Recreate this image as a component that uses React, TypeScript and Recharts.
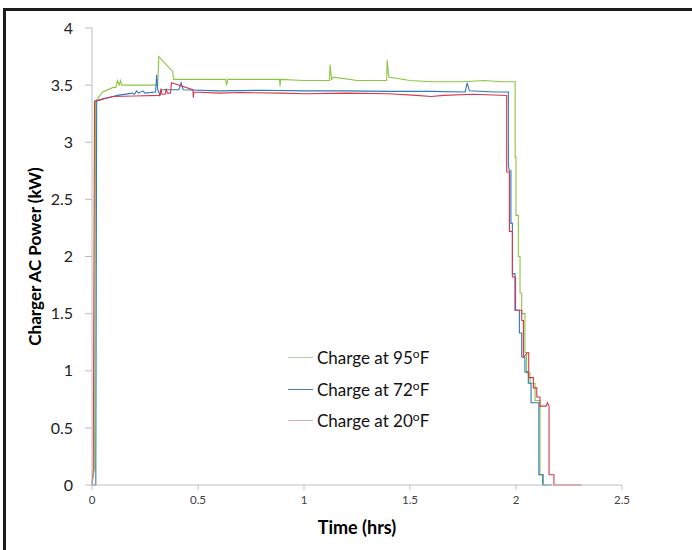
import React from "react"
import { LineChart, Line, XAxis, YAxis, Legend } from "recharts"

// time (hrs) / charger AC power (kW)
const time95 = [0, 0.012, 0.017, 0.05, 0.1, 0.113, 0.12, 0.128, 0.135, 0.14, 0.3, 0.31, 0.315, 0.38, 0.385, 0.5, 0.63, 0.635, 0.64, 0.8, 0.885, 0.887, 0.89, 1.0, 1.12, 1.123, 1.13, 1.14, 1.25, 1.39, 1.392, 1.4, 1.5, 1.6, 1.75, 1.85, 1.93, 1.996, 1.996, 2.0, 2.0, 2.011, 2.011, 2.019, 2.019, 2.027, 2.027, 2.042, 2.042, 2.05, 2.05, 2.066, 2.066, 2.09, 2.09, 2.113, 2.113, 2.129, 2.129, 2.14]
const power95 = [0, 0.15, 3.36, 3.44, 3.48, 3.48, 3.54, 3.5, 3.54, 3.5, 3.5, 3.5, 3.75, 3.62, 3.55, 3.55, 3.55, 3.5, 3.55, 3.55, 3.55, 3.49, 3.55, 3.54, 3.54, 3.68, 3.55, 3.57, 3.54, 3.54, 3.72, 3.57, 3.54, 3.53, 3.53, 3.54, 3.53, 3.53, 2.87, 2.87, 2.36, 2.36, 2.0, 2.0, 1.68, 1.68, 1.5, 1.5, 1.16, 1.16, 0.98, 0.98, 0.89, 0.89, 0.74, 0.74, 0.09, 0.09, 0, 0]

const time72 = [0, 0.018, 0.018, 0.022, 0.06, 0.12, 0.19, 0.2, 0.21, 0.22, 0.24, 0.25, 0.3, 0.305, 0.31, 0.315, 0.32, 0.33, 0.41, 0.42, 0.43, 0.6, 0.8, 1.0, 1.2, 1.4, 1.6, 1.76, 1.77, 1.78, 1.9, 1.964, 1.964, 1.968, 1.976, 1.976, 1.983, 1.983, 1.995, 1.995, 2.016, 2.016, 2.027, 2.027, 2.042, 2.042, 2.058, 2.058, 2.071, 2.071, 2.108, 2.108, 2.126, 2.126, 2.17]
const power72 = [0, 0, 0.16, 3.36, 3.38, 3.41, 3.43, 3.42, 3.45, 3.43, 3.45, 3.43, 3.44, 3.59, 3.46, 3.44, 3.41, 3.46, 3.46, 3.52, 3.46, 3.45, 3.455, 3.45, 3.45, 3.445, 3.445, 3.44, 3.52, 3.45, 3.44, 3.44, 2.8, 2.75, 2.75, 2.29, 2.29, 1.85, 1.85, 1.53, 1.53, 1.33, 1.33, 1.12, 1.12, 0.99, 0.99, 0.89, 0.89, 0.72, 0.72, 0.09, 0.09, 0, 0]

const time20 = [0, 0.006, 0.012, 0.05, 0.1, 0.2, 0.32, 0.325, 0.33, 0.345, 0.35, 0.355, 0.37, 0.375, 0.476, 0.478, 0.48, 0.6, 0.7, 0.9, 1.0, 1.2, 1.4, 1.53, 1.6, 1.66, 1.8, 1.956, 1.956, 1.969, 1.969, 1.983, 1.983, 1.998, 1.998, 2.027, 2.027, 2.035, 2.035, 2.055, 2.06, 2.06, 2.082, 2.082, 2.098, 2.098, 2.113, 2.113, 2.142, 2.148, 2.156, 2.156, 2.179, 2.179, 2.31]
const power20 = [0, 0.15, 3.36, 3.38, 3.4, 3.405, 3.41, 3.47, 3.42, 3.42, 3.47, 3.43, 3.43, 3.52, 3.46, 3.39, 3.44, 3.43, 3.435, 3.43, 3.425, 3.43, 3.425, 3.41, 3.4, 3.41, 3.42, 3.41, 2.74, 2.74, 2.22, 2.22, 1.82, 1.82, 1.53, 1.53, 1.44, 1.44, 1.12, 1.16, 1.16, 0.94, 0.94, 0.85, 0.85, 0.77, 0.77, 0.69, 0.69, 0.72, 0.69, 0.09, 0.09, 0, 0]

const temps = ["95", "72", "20"]
const lineColors = ["#8cc63e", "#2f78bd", "#d8384a"]
const legendColors = ["#b5cfa0", "#55799c", "#dcaab2"]
const xTicks = [0, 0.5, 1, 1.5, 2, 2.5]
const yTicks = [0, 0.5, 1, 1.5, 2, 2.5, 3, 3.5, 4]

const toRows = (t: number[], p: number[]) => t.map((time, i) => ({ time, power: p[i] }))
const series = [toRows(time95, power95), toRows(time72, power72), toRows(time20, power20)]

const font = "Lato, 'Open Sans', sans-serif"

function YTitle(props: any) {
  const vb = props.viewBox || { x: 0, y: 28, width: 92, height: 457 }
  const cx = vb.x + 34
  const cy = vb.y + vb.height / 2
  return (
    <text
      x={cx}
      y={cy}
      transform={`rotate(-90 ${cx} ${cy})`}
      textAnchor="middle"
      dominantBaseline="central"
      fontFamily={font}
      fontWeight="bold"
      fontSize={17}
      fill="#000"
    >
      Charger AC Power (kW)
    </text>
  )
}

function ChartLegend() {
  return (
    <div style={{ fontFamily: font, fontSize: 17, color: "#111" }}>
      {temps.map((t, i) => (
        <div key={t} style={{ display: "flex", alignItems: "center", height: 31.5 }}>
          <span style={{ display: "inline-block", width: 25, height: 1, background: legendColors[i], marginRight: 4 }} />
          <span>
            Charge at {t}
            <span style={{ fontSize: 12, position: "relative", top: -6 }}>o</span>F
          </span>
        </div>
      ))}
    </div>
  )
}

export default function App() {
  return (
    <div style={{ position: "absolute", left: 0, top: 0, width: 692, height: 550, overflow: "hidden", background: "#fff" }}>
      <div
        style={{
          position: "absolute",
          left: 3,
          top: 8,
          width: 800,
          height: 800,
          borderTop: "3px solid #1c1c1c",
          borderLeft: "3px solid #1c1c1c",
        }}
      />
      <div style={{ position: "absolute", left: 0, top: 0 }}>
        <LineChart width={692} height={550} margin={{ top: 28, right: 70, bottom: 0, left: 0 }}>
          <XAxis
            dataKey="time"
            type="number"
            domain={[0, 2.5]}
            ticks={xTicks}
            height={65}
            stroke="#bfbfbf"
            tickSize={5}
            tickMargin={6}
            tick={{ fill: "#404040", fontSize: 11.5, fontFamily: font }}
            label={{ value: "Time (hrs)", position: "insideBottom", offset: 16, fill: "#000", fontSize: 18, fontWeight: "bold", fontFamily: font }}
          />
          <YAxis
            dataKey="power"
            type="number"
            domain={[0, 4]}
            ticks={yTicks}
            width={92}
            stroke="#bfbfbf"
            tickSize={7}
            tickMargin={12}
            tick={{ fill: "#222", fontSize: 16, fontFamily: font }}
            label={<YTitle />}
          />
          {series.map((rows, i) => (
            <Line
              key={temps[i]}
              data={rows}
              dataKey="power"
              name={`Charge at ${temps[i]}°F`}
              type="linear"
              stroke={lineColors[i]}
              strokeWidth={1.1}
              dot={false}
              activeDot={false}
              isAnimationActive={false}
            />
          ))}
          <Legend
            layout="vertical"
            align="center"
            verticalAlign="middle"
            content={<ChartLegend />}
            wrapperStyle={{ left: 288, top: 342, width: "auto" }}
          />
        </LineChart>
      </div>
    </div>
  )
}
